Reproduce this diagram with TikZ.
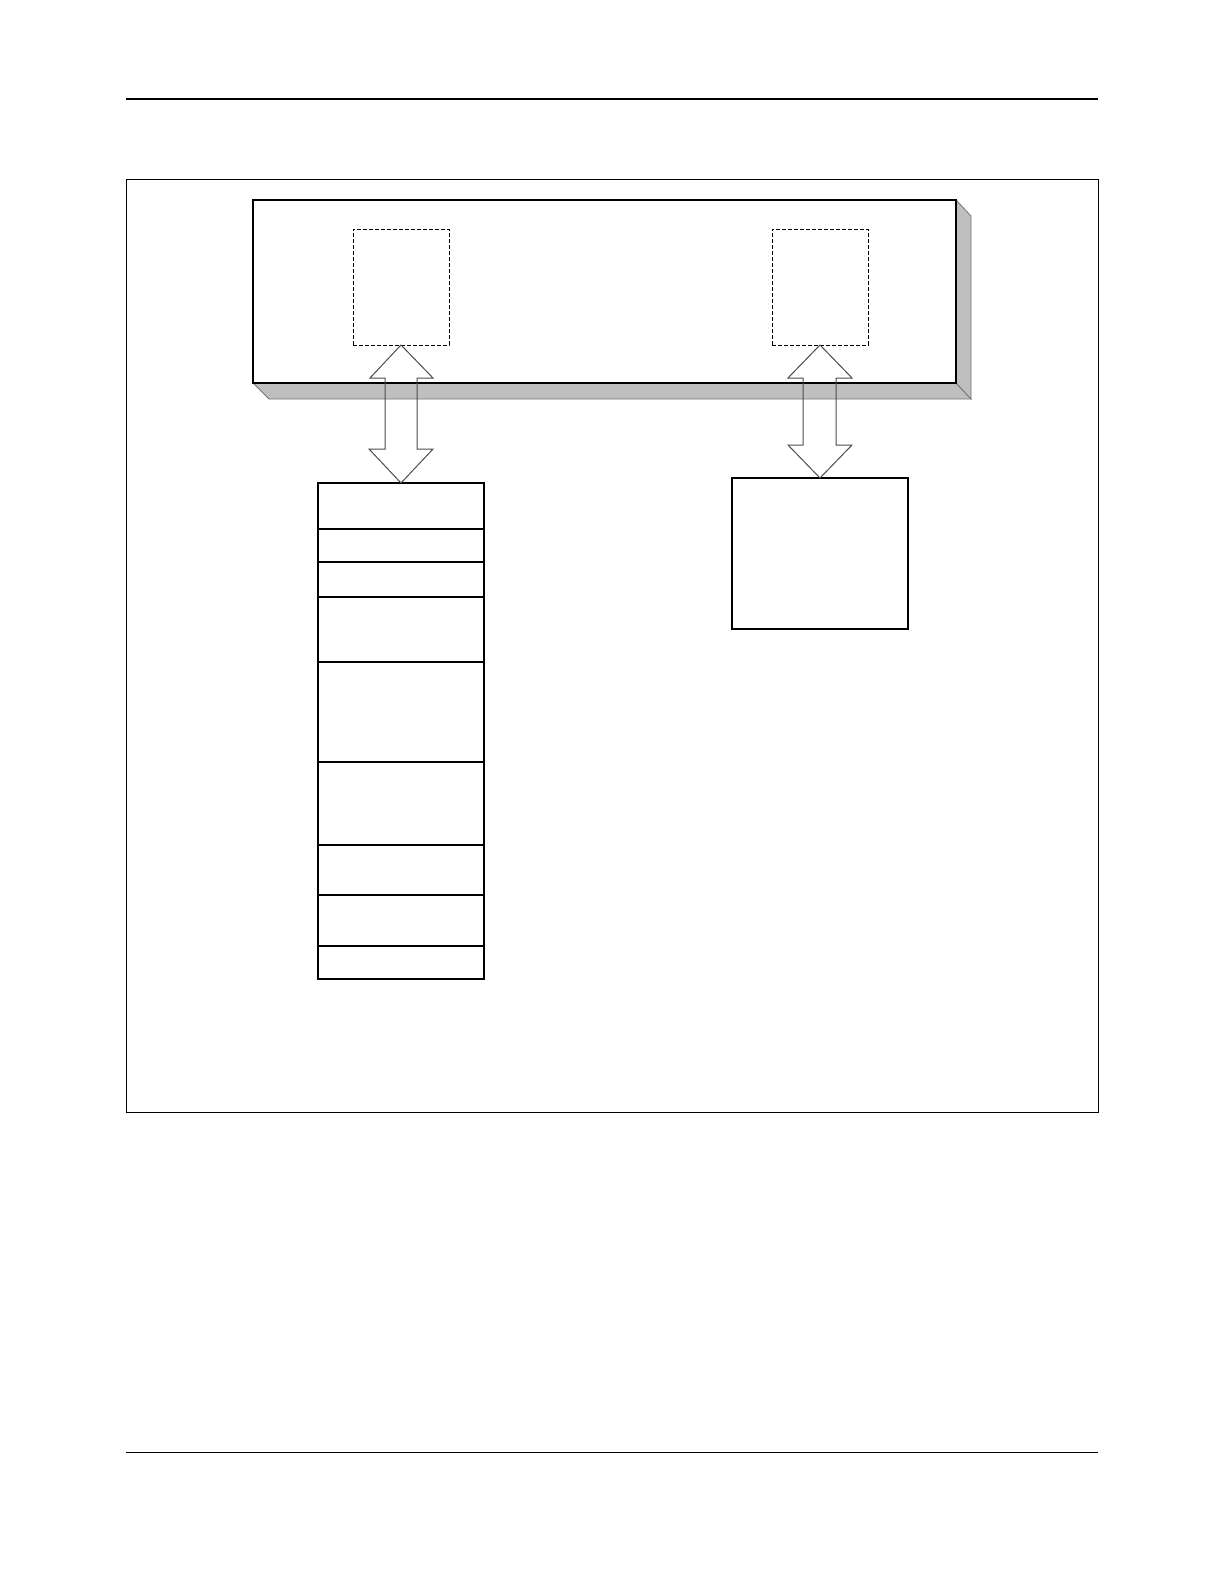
\documentclass[tikz,border=0pt]{standalone}
\begin{document}
\begin{tikzpicture}[x=1pt,y=-1pt,
  every node/.style={outer sep=0pt},
  boxln/.style={line width=1.1pt,draw=black},
  cell/.style={boxln,fill=white,rectangle,inner sep=0pt,minimum width=166pt,anchor=north},
  dbox/.style={draw=black,line width=1pt,dash pattern=on 4pt off 2pt,rectangle,inner sep=0pt,minimum width=96pt,minimum height=116pt,anchor=north west},
  shade/.style={fill=black!25,draw=black!55,line width=0.8pt,line join=miter},
  bigarrow/.style={draw=black!70,line width=1pt,line join=miter}]
\useasboundingbox (0,0) rectangle (1224,1584);
% page rules
\draw[line width=2pt] (126,99) -- (1098,99);
\draw[line width=1pt] (126,1452) -- (1098,1452);
% outer frame
\node[draw=black,line width=1pt,rectangle,inner sep=0pt,minimum width=972pt,minimum height=933pt,anchor=north west] (frame) at (126,179) {};
% slab
\node[boxln,fill=white,rectangle,inner sep=0pt,minimum width=703pt,minimum height=183pt,anchor=north west] (slab) at (253,200) {};
\draw[shade] (slab.south west) -- (slab.south east) -- ++(15,16) -- ++(-702,0) -- cycle;
\draw[shade] (slab.north east) -- ++(15,16) -- ++(0,183) -- (slab.south east) -- cycle;
\draw[boxln] (slab.south west) rectangle (slab.north east);
% dashed boxes
\node[dbox] (d1) at (353,229) {};
\node[dbox] (d2) at (772,229) {};
% left stack
\node[cell,minimum height=46pt] (m1) at (401,483) {};
\node[cell,minimum height=33pt] (m2) at (m1.south) {};
\node[cell,minimum height=35pt] (m3) at (m2.south) {};
\node[cell,minimum height=65pt] (m4) at (m3.south) {};
\node[cell,minimum height=100pt] (m5) at (m4.south) {};
\node[cell,minimum height=83pt] (m6) at (m5.south) {};
\node[cell,minimum height=50pt] (m7) at (m6.south) {};
\node[cell,minimum height=51pt] (m8) at (m7.south) {};
\node[cell,minimum height=33pt] (m9) at (m8.south) {};
% right box
\node[cell,minimum width=176pt,minimum height=151pt] (r1) at (820,478) {};
% arrows
\draw[bigarrow] (d1.south) -- ++(-31,33) -- ++(15,0) -- ++(0,71) -- ++(-16,0) -- (m1.north) -- ++(32,-34) -- ++(-16,0) -- ++(0,-71) -- ++(16,0) -- cycle;
\draw[bigarrow] (d2.south) -- ++(-32,33) -- ++(15,0) -- ++(0,67) -- ++(-15,0) -- (r1.north) -- ++(32,-33) -- ++(-16,0) -- ++(0,-67) -- ++(16,0) -- cycle;
\end{tikzpicture}
\end{document}
